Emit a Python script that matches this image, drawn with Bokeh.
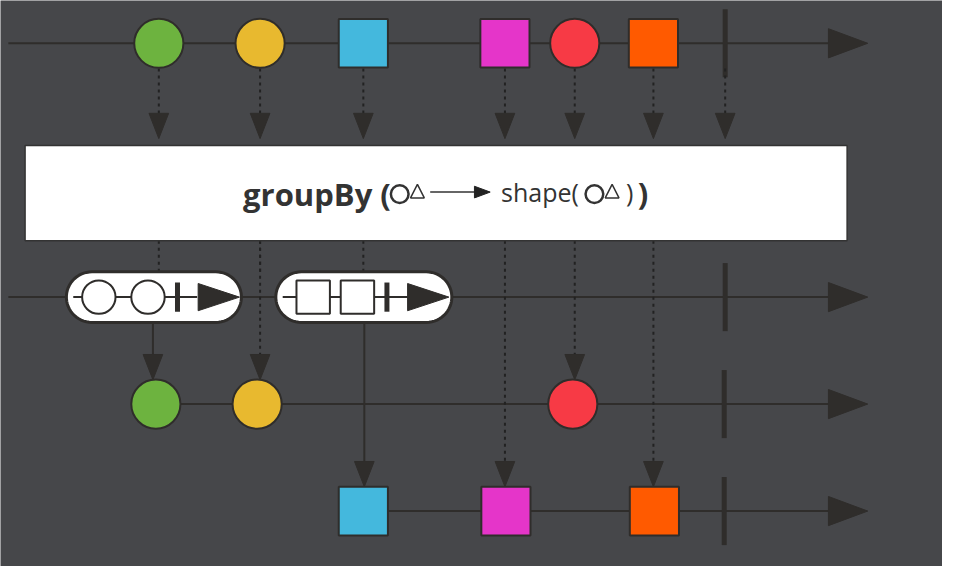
import numpy as np
from bokeh.core.properties import value
from bokeh.embed import file_html
from bokeh.models import Range1d
from bokeh.plotting import figure
from bokeh.resources import INLINE

# lines (y position, start x)
line_y = [44, 305, 415, 525]
line_x0 = [8, 8, 158, 369]
line_end = 845
arrow_tip = 882
done_x = [737, 737, 736, 736]

# source marbles
src_x = [161, 264, 369, 513, 584, 664]
src_kind = ["c", "c", "s", "s", "c", "s"]
src_color = ["#6db33f", "#e8b92f", "#44b8dd", "#e535c9", "#f73a45", "#ff5a00"]

# group outputs
circ_x = [158, 261, 582]
circ_color = ["#6db33f", "#e8b92f", "#f73a45"]
sq_x = [369, 514, 665]
sq_color = ["#44b8dd", "#e535c9", "#ff5a00"]

BG = "#46474a"
DARK = "#2f2d2b"

p = figure(width=942, height=566, x_range=Range1d(0, 958), y_range=Range1d(582, 0),
           output_backend="svg", toolbar_location=None, min_border=0)
p.axis.visible = False
p.grid.visible = False
p.outline_line_color = None
p.background_fill_color = BG
p.border_fill_color = BG


def tri_right(tip, y, w=40, h=30):
    return [tip - w, tip - w, tip], [y - h / 2, y + h / 2, y]


def tri_down(x, tip, w=20, h=26):
    return [x - w / 2, x + w / 2, x], [tip - h, tip - h, tip]


# timelines
for y, x0, dx in zip(line_y, line_x0, done_x):
    p.line([x0, line_end], [y, y], line_color=DARK, line_width=2)
    tx, ty = tri_right(arrow_tip, y)
    p.patch(tx, ty, color=DARK)
    p.line([dx, dx], [y - 35, y + 35], line_color=DARK, line_width=5)

# dotted arrows from source to operator box
for x in src_x + [737]:
    p.line([x, x], [70, 118], line_color="#222", line_width=2, line_dash="3 4")
    tx, ty = tri_down(x, 142)
    p.patch(tx, ty, color=DARK)

# dotted to pills
for x in [161, 264, 369]:
    p.line([x, x], [247, 280], line_color="#222", line_width=2, line_dash="3 4")

# dotted from box to output lines
for x, tip in [(264, 390), (584, 390), (513, 500), (664, 500)]:
    p.line([x, x], [247, tip - 24], line_color="#222", line_width=2, line_dash="3 4")
    tx, ty = tri_down(x, tip)
    p.patch(tx, ty, color=DARK)

# solid arrows from pills
for x, y0, tip in [(155, 331, 390), (370, 331, 500)]:
    p.line([x, x], [y0, tip - 24], line_color=DARK, line_width=2)
    tx, ty = tri_down(x, tip)
    p.patch(tx, ty, color=DARK)

# operator box
p.quad(left=25, right=861, top=149, bottom=247, fill_color="white", line_color="#333", line_width=1.5)
p.text([397], [199], text=["groupBy ("], text_font=value("Open Sans"), text_font_style="bold",
       text_font_size="31px", text_color="#333", text_align="right", text_baseline="middle")


def icon(x):
    p.circle([x + 9], [199], radius=9, fill_color=None, line_color="#333", line_width=2.5)
    p.patch([x + 20, x + 34, x + 27], [203, 203, 189], fill_color=None, line_color="#333", line_width=1.5)


icon(397)
p.line([437, 485], [197, 197], line_color="#333", line_width=1.5)
p.patch([482, 498, 482], [191, 197, 203], color="#222")
p.text([509], [197], text=["shape("], text_font=value("Open Sans"), text_font_size="25px",
       text_color="#333", text_align="left", text_baseline="middle")
icon(595)
p.text([636], [197], text=[")"], text_font=value("Open Sans"), text_font_size="25px",
       text_color="#333", text_align="left", text_baseline="middle")
p.text([648], [198], text=[")"], text_font=value("Open Sans"), text_font_style="bold",
       text_font_size="31px", text_color="#333", text_align="left", text_baseline="middle")


# pills
def pill(x0, x1, yc, h=52):
    r = h / 2
    a = np.linspace(-np.pi / 2, np.pi / 2, 30)
    xs = list(x1 - r + r * np.cos(a)) + list(x0 + r - r * np.cos(a))
    ys = list(yc + r * np.sin(a)) + list(yc - r * np.sin(a))
    p.patch(xs, ys, fill_color="white", line_color=DARK, line_width=3)


pill(67, 245, 305)
p.line([74, 200], [305, 305], line_color=DARK, line_width=2)
p.circle([100, 150], [305, 305], radius=17, fill_color="white", line_color=DARK, line_width=2)
p.line([180, 180], [290, 320], line_color=DARK, line_width=5)
tx, ty = tri_right(243, 305, 42, 28)
p.patch(tx, ty, color=DARK)

pill(280, 459, 305)
p.line([287, 415], [305, 305], line_color=DARK, line_width=2)
p.rect([318, 363], [305, 305], width=34, height=34, fill_color="white", line_color=DARK, line_width=2)
p.line([393, 393], [290, 320], line_color=DARK, line_width=5)
tx, ty = tri_right(456, 305, 42, 28)
p.patch(tx, ty, color=DARK)

# marbles
cx = [x for x, k in zip(src_x, src_kind) if k == "c"]
cc = [c for c, k in zip(src_color, src_kind) if k == "c"]
sx = [x for x, k in zip(src_x, src_kind) if k == "s"]
sc = [c for c, k in zip(src_color, src_kind) if k == "s"]
p.circle(cx, [44] * len(cx), radius=25, fill_color=cc, line_color=DARK, line_width=2)
p.rect(sx, [44] * len(sx), width=50, height=50, fill_color=sc, line_color=DARK, line_width=2)
p.circle(circ_x, [415] * 3, radius=25, fill_color=circ_color, line_color=DARK, line_width=2)
p.rect(sq_x, [525] * 3, width=50, height=50, fill_color=sq_color, line_color=DARK, line_width=2)

open("out.html", "w").write(file_html(p, INLINE))
